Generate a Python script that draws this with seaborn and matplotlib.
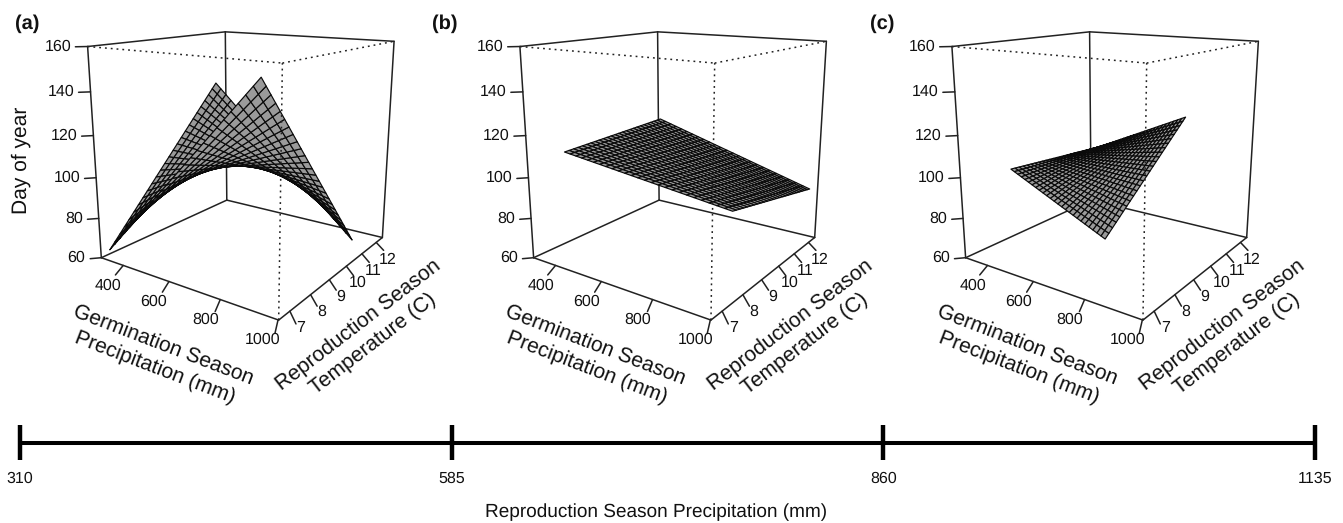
import numpy as np
import pandas as pd
import matplotlib
matplotlib.use('Agg')
import matplotlib.pyplot as plt
import seaborn as sns
from mpl_toolkits.mplot3d import proj3d

panel_names = ['(a)', '(b)', '(c)']
panel_name_x = [15, 432, 870]
panel_shift = [0, 432.3, 864.3]

x_lim = [296, 1002]
y_lim = [6.5, 12.46]
z_lim = [60, 160]
x_ticks = [400, 600, 800, 1000]
y_ticks = [7, 8, 9, 10, 11, 12]
z_ticks = [60, 80, 100, 120, 140, 160]

# range of each fitted surface
surf_x = [[331, 934], [354, 999], [484, 845]]
surf_y = [[6.57, 11.53], [7.43, 11.92], [6.85, 10.75]]
# day of year at the four corners of each surface
z_xlo_ylo = [64.9, 110.1, 107.3]
z_xhi_ylo = [154.1, 100.2, 86.5]
z_xhi_yhi = [61.7, 88.7, 125.6]
z_xlo_yhi = [133.5, 112.6, 103.3]

scale_ticks = [310, 585, 860, 1135]

FIG_W, FIG_H = 1343, 523
MESH = 26

sns.set_theme(style='white')
plt.rcParams['font.family'] = ['Liberation Sans', 'DejaVu Sans']
plt.rcParams['text.color'] = '#111111'
plt.rcParams['text.hinting'] = 'no_hinting'
plt.rcParams['text.hinting_factor'] = 1

fig = plt.figure(figsize=(FIG_W / 100, FIG_H / 100), dpi=100)


def fig_text(x, y, s, **kw):
    kw.setdefault('ha', 'center')
    kw.setdefault('va', 'center')
    kw.setdefault('rotation_mode', 'anchor')
    fig.text(x / FIG_W, 1 - y / FIG_H, s, **kw)


def tick_label(ax, x, y, z, s, dx, dy, ha='center'):
    u, v, _ = proj3d.proj_transform(x, y, z, ax.get_proj())
    ax.annotate(s, (u, v), xytext=(dx, dy), textcoords='offset pixels', ha=ha, va='center',
                fontsize=11.8, annotation_clip=False)


def draw_panel(i):
    ax = fig.add_axes([(41.76 + panel_shift[i]) / FIG_W, 167.7 / FIG_H, 400 / FIG_W, 400 / FIG_H],
                      projection='3d', computed_zorder=False)
    ax.set_xlim(*x_lim)
    ax.set_ylim(*y_lim)
    ax.set_zlim(*z_lim)
    ax.view_init(elev=15, azim=-55)
    ax.set_proj_type('persp', focal_length=0.292)
    ax.set_box_aspect((1, 1, 1), zoom=0.8836)
    ax.set_axis_off()

    x0, x1 = x_lim
    y0, y1 = y_lim
    z0, z1 = z_lim
    line = dict(color='#222222', lw=1.1)
    dots = dict(color='#222222', lw=1.1, ls=(0, (1.2, 2.6)))

    # solid part of the box, behind the surface
    solid = [([x0, x1], [y0, y0], [z0, z0]), ([x1, x1], [y0, y1], [z0, z0]),
             ([x1, x0], [y1, y1], [z0, z0]), ([x0, x0], [y1, y0], [z0, z0]),
             ([x0, x0], [y0, y1], [z1, z1]), ([x0, x1], [y1, y1], [z1, z1]),
             ([x0, x0], [y0, y0], [z0, z1]), ([x0, x0], [y1, y1], [z0, z1]),
             ([x1, x1], [y1, y1], [z0, z1])]
    for a, b, c in solid:
        ax.plot(a, b, c, zorder=1, **line)

    # bilinear patch between the four corner values, drawn as a fine mesh
    gx = np.linspace(surf_x[i][0], surf_x[i][1], MESH)
    gy = np.linspace(surf_y[i][0], surf_y[i][1], MESH)
    X, Y = np.meshgrid(gx, gy)
    s = (X - gx[0]) / (gx[-1] - gx[0])
    t = (Y - gy[0]) / (gy[-1] - gy[0])
    Z = (z_xlo_ylo[i] * (1 - s) * (1 - t) + z_xhi_ylo[i] * s * (1 - t)
         + z_xhi_yhi[i] * s * t + z_xlo_yhi[i] * (1 - s) * t)
    ax.plot_surface(X, Y, Z, rstride=1, cstride=1, color='#9a9a9a', edgecolor='#0a0a0a',
                    linewidth=0.85, shade=False, antialiased=True, zorder=2)

    # dotted front of the box, over the surface
    front = [([x0, x1], [y0, y0], [z1, z1]), ([x1, x1], [y0, y1], [z1, z1]),
             ([x1, x1], [y0, y0], [z0, z1])]
    for a, b, c in front:
        ax.plot(a, b, c, zorder=3, **dots)

    dx = x1 - x0
    dy = y1 - y0
    for v in x_ticks:
        ax.plot([v, v + 0.043 * dx], [y0, y0 - 0.09 * dy], [z0, z0], zorder=3, **line)
        tick_label(ax, v, y0, z0, str(v), -15, -20)
    for v in y_ticks:
        ax.plot([x1, x1 + 0.07 * dx], [v, v - 0.07 * dy], [z0, z0], zorder=3, **line)
        tick_label(ax, x1, v, z0, str(v), 11, -17)
    for v in z_ticks:
        ax.plot([x0, x0 - 0.035 * dx], [y0, y0 - 0.038 * dy], [v, v], zorder=3, **line)
        tick_label(ax, x0, y0, v, str(v), -16, 0, ha='right')

    sx = panel_shift[i]
    fig_text(163 + sx, 345, 'Germination Season', rotation=-21, fontsize=14.8)
    fig_text(155 + sx, 367, 'Precipitation (mm)', rotation=-21, fontsize=14.8)
    fig_text(358 + sx, 325, 'Reproduction Season', rotation=37.5, fontsize=14.8)
    fig_text(373 + sx, 344, 'Temperature (C)', rotation=37.5, fontsize=14.8)
    fig_text(panel_name_x[i], 24, panel_names[i], ha='left', fontsize=14.4, fontweight='bold')


for i in range(3):
    draw_panel(i)

fig_text(21, 160, 'Day of year', rotation=90, fontsize=15.2)

# reproduction precipitation scale along the bottom
scale_ax = fig.add_axes([20 / FIG_W, 1 - 460 / FIG_H, 1295 / FIG_W, 35 / FIG_H])
scale = pd.DataFrame({'precip': scale_ticks, 'level': [0] * len(scale_ticks)})
sns.lineplot(data=scale, x='precip', y='level', color='black', linewidth=2.9, ax=scale_ax, clip_on=False)
scale_ax.vlines(scale_ticks, -1, 1, color='black', linewidth=3.2, clip_on=False)
scale_ax.set_xlim(scale_ticks[0], scale_ticks[-1])
scale_ax.set_ylim(-1, 1)
scale_ax.set_axis_off()
for i, v in enumerate(scale_ticks):
    fig_text(20 + i * 1295 / 3, 479, str(v), fontsize=11.5)
fig_text(656, 512, 'Reproduction Season Precipitation (mm)', fontsize=14.0)

fig.savefig('out.png', dpi=100)
